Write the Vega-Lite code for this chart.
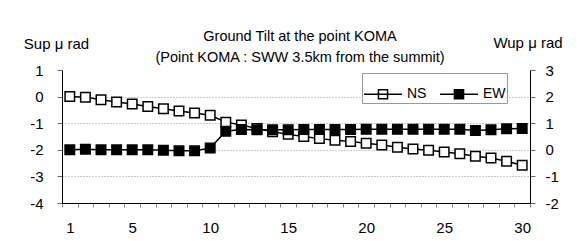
{
  "$schema": "https://vega.github.io/schema/vega-lite/v6.json",
  "width": 468,
  "height": 133,
  "autosize": {"type": "none"},
  "padding": {"left": 62, "top": 70, "right": 49, "bottom": 38},
  "background": "white",
  "title": {
    "text": ["Ground Tilt at the point KOMA", "(Point KOMA : SWW 3.5km from the summit)"],
    "anchor": "middle",
    "font": "Liberation Sans",
    "fontSize": 14.5,
    "fontWeight": "normal",
    "color": "black",
    "lineHeight": 21,
    "offset": -30,
    "dx": 4
  },
  "config": {
    "view": {"stroke": null},
    "font": "Liberation Sans"
  },
  "data": {
    "values": [
      {"day": 1, "NS": 0.0, "EW": 0.0},
      {"day": 2, "NS": -0.02, "EW": 0.02},
      {"day": 3, "NS": -0.12, "EW": 0.0},
      {"day": 4, "NS": -0.2, "EW": 0.0},
      {"day": 5, "NS": -0.28, "EW": 0.0},
      {"day": 6, "NS": -0.37, "EW": 0.0},
      {"day": 7, "NS": -0.46, "EW": -0.02},
      {"day": 8, "NS": -0.54, "EW": -0.04},
      {"day": 9, "NS": -0.62, "EW": -0.04},
      {"day": 10, "NS": -0.7, "EW": 0.07},
      {"day": 11, "NS": -0.96, "EW": 0.7},
      {"day": 12, "NS": -1.07, "EW": 0.76},
      {"day": 13, "NS": -1.2, "EW": 0.75},
      {"day": 14, "NS": -1.32, "EW": 0.75},
      {"day": 15, "NS": -1.42, "EW": 0.75},
      {"day": 16, "NS": -1.5, "EW": 0.76},
      {"day": 17, "NS": -1.58, "EW": 0.76},
      {"day": 18, "NS": -1.64, "EW": 0.76},
      {"day": 19, "NS": -1.69, "EW": 0.76},
      {"day": 20, "NS": -1.75, "EW": 0.77},
      {"day": 21, "NS": -1.82, "EW": 0.77},
      {"day": 22, "NS": -1.9, "EW": 0.77},
      {"day": 23, "NS": -1.97, "EW": 0.77},
      {"day": 24, "NS": -2.02, "EW": 0.77},
      {"day": 25, "NS": -2.08, "EW": 0.77},
      {"day": 26, "NS": -2.15, "EW": 0.77},
      {"day": 27, "NS": -2.24, "EW": 0.73},
      {"day": 28, "NS": -2.31, "EW": 0.75},
      {"day": 29, "NS": -2.43, "EW": 0.79},
      {"day": 30, "NS": -2.58, "EW": 0.8}
    ]
  },
  "encoding": {
    "x": {
      "field": "day",
      "type": "ordinal",
      "scale": {"type": "band", "paddingInner": 0, "paddingOuter": 0},
      "axis": {
        "title": null,
        "labelExpr": "indexof([1,5,10,15,20,25,30], datum.value) >= 0 ? datum.label : ''",
        "labelAngle": 0,
        "labelOverlap": false,
        "tickBand": "extent",
        "tickSize": 4,
        "tickColor": "#808080",
        "domainColor": "black",
        "labelPadding": 13,
        "labelFont": "Liberation Sans",
        "labelFontSize": 15,
        "labelColor": "black",
        "grid": false
      }
    }
  },
  "layer": [
    {
      "encoding": {
        "y": {
          "field": "NS",
          "type": "quantitative",
          "scale": {"domain": [-4, 1], "nice": false, "zero": false},
          "axis": {
            "orient": "left",
            "title": "Sup μ rad",
            "titleAngle": 0,
            "titleX": -6,
            "titleY": -22,
            "titleAlign": "center",
            "titleBaseline": "alphabetic",
            "titleFont": "Liberation Sans",
            "titleFontSize": 15,
            "titleFontWeight": "normal",
            "titleColor": "black",
            "values": [-4, -3, -2, -1, 0, 1],
            "labelExpr": "datum.value + ''",
            "labelOverlap": false,
            "labelFont": "Liberation Sans",
            "labelFontSize": 15,
            "labelColor": "black",
            "labelPadding": 14,
            "tickSize": 5,
            "tickColor": "#666666",
            "domainColor": "black",
            "grid": true,
            "gridColor": "#999999",
            "gridDash": [1, 2],
            "gridOpacity": {"condition": {"test": "datum.value >= 1 || datum.value <= -4", "value": 0}, "value": 1}
          }
        }
      },
      "layer": [
        {
          "mark": {"type": "line", "color": "black", "strokeWidth": 1.5}
        },
        {
          "mark": {"type": "square", "size": 90, "stroke": "black", "strokeWidth": 1.5, "opacity": 1, "filled": true},
          "encoding": {
            "fill": {
              "datum": "NS",
              "type": "nominal",
              "scale": {"domain": ["NS", "EW"], "range": ["white", "black"]},
              "legend": {
                "orient": "none",
                "legendX": 300,
                "legendY": 3,
                "direction": "horizontal",
                "title": null,
                "symbolType": "M-1,0H1M-0.24,-0.24H0.24V0.24H-0.24Z",
                "symbolSize": 1444,
                "symbolStrokeColor": "black",
                "symbolStrokeWidth": 1.5,
                "symbolOpacity": 1,
                "labelFont": "Liberation Sans",
                "labelFontSize": 14,
                "labelColor": "black",
                "labelOffset": 4,
                "columnPadding": 10,
                "strokeColor": "#999999",
                "fillColor": "white",
                "padding": 1
              }
            }
          }
        }
      ]
    },
    {
      "encoding": {
        "y": {
          "field": "EW",
          "type": "quantitative",
          "scale": {"domain": [-2, 3], "nice": false, "zero": false},
          "axis": {
            "orient": "right",
            "title": "Wup μ rad",
            "titleAngle": 0,
            "titleX": -2.5,
            "titleY": -23,
            "titleAlign": "center",
            "titleBaseline": "alphabetic",
            "titleFont": "Liberation Sans",
            "titleFontSize": 15,
            "titleFontWeight": "normal",
            "titleColor": "black",
            "values": [-2, -1, 0, 1, 2, 3],
            "labelExpr": "datum.value + ''",
            "labelOverlap": false,
            "labelFont": "Liberation Sans",
            "labelFontSize": 15,
            "labelColor": "black",
            "labelPadding": 10,
            "tickSize": 5,
            "tickColor": "#666666",
            "domainColor": "black",
            "grid": false
          }
        }
      },
      "layer": [
        {
          "mark": {"type": "line", "color": "black", "strokeWidth": 1.5}
        },
        {
          "mark": {"type": "square", "size": 90, "stroke": "black", "strokeWidth": 1.5, "opacity": 1, "filled": true},
          "encoding": {
            "fill": {"datum": "EW", "type": "nominal"}
          }
        }
      ]
    }
  ],
  "resolve": {"scale": {"y": "independent"}}
}
